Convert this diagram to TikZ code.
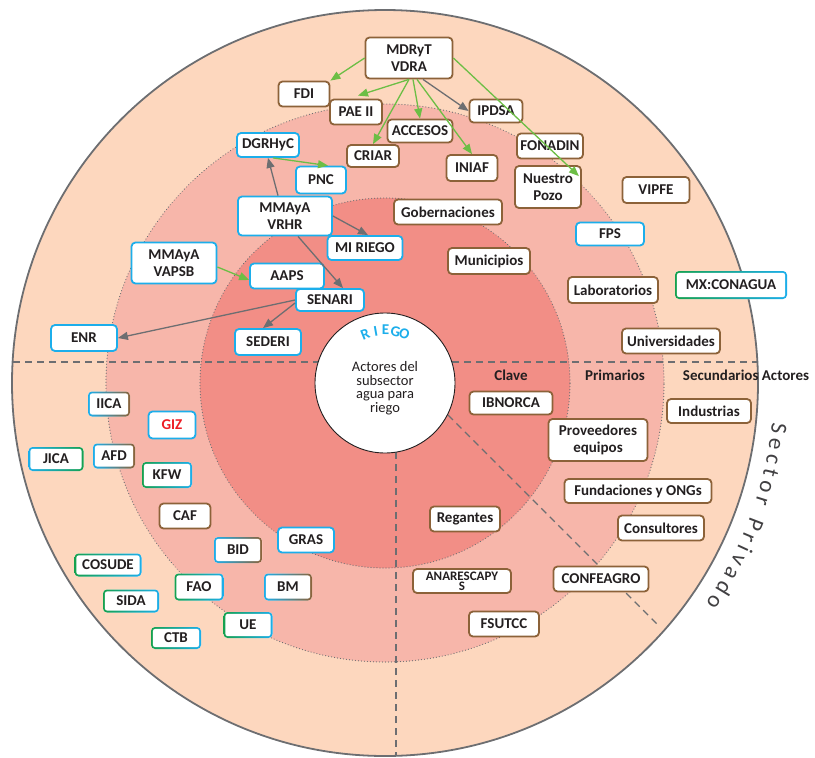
\documentclass[tikz,border=0pt]{standalone}
\usepackage{fontspec}
\setmainfont{Carlito}[BoldFont={Carlito Bold}]
\usetikzlibrary{arrows.meta,calc}
\definecolor{ringa}{HTML}{FDD7BE}
\definecolor{ringb}{HTML}{F7B6AA}
\definecolor{ringc}{HTML}{F28E86}
\definecolor{edgegray}{HTML}{6D6E71}
\definecolor{bbrown}{HTML}{8C6239}
\definecolor{bcyan}{HTML}{1CAEEB}
\definecolor{bgreen}{HTML}{16A14F}
\definecolor{agreen}{HTML}{6CBE45}
\definecolor{ink}{HTML}{231F20}
\definecolor{gizred}{HTML}{ED1C24}
\definecolor{sectorgray}{HTML}{414042}
\tikzset{
 boxbase/.style={rectangle, rounded corners=4pt, fill=white, line width=1.8pt, inner sep=1pt, align=center, text=ink, font=\bfseries\fontsize{15}{17.5}\selectfont},
 bbox/.style={boxbase, draw=bbrown},
 cbox/.style={boxbase, draw=bcyan},
 gbox/.style={boxbase, draw=bgreen},
 duo/.style 2 args={boxbase, draw=none, left color=#1, right color=#2,
   path picture={\fill[white, rounded corners=2.6pt] ([shift={(1.8pt,-1.8pt)}]path picture bounding box.north west) rectangle ([shift={(-1.8pt,1.8pt)}]path picture bounding box.south east);}},
 sz/.style 2 args={minimum width=#1pt, minimum height=#2pt},
 garrow/.style={-{Triangle[length=10pt,width=8pt]}, draw=agreen, line width=1.3pt},
 karrow/.style={-{Triangle[length=10pt,width=8pt]}, draw=edgegray, line width=1.3pt},
 ringdot/.style={draw=edgegray, line width=1.2pt, dash pattern=on 0.01pt off 3pt, line cap=round},
 divline/.style={draw=edgegray, line width=1.3pt, dash pattern=on 7pt off 5pt},
 lbl/.style={text=ink, font=\bfseries\fontsize{15}{17.5}\selectfont, inner sep=0pt},
}
\begin{document}
\begin{tikzpicture}[x=1pt,y=-1pt]
\useasboundingbox (0,0) rectangle (815,758);
\coordinate (O) at (385,383);
% rings
\fill[ringa] (O) circle[radius=373pt];
\fill[ringb] (O) circle[radius=279pt];
\draw[ringdot] (O) circle[radius=279pt];
\fill[ringc] (O) circle[radius=185pt];
\draw[ringdot] (O) circle[radius=185pt];
\draw[draw=edgegray, line width=1.8pt] (O) circle[radius=373pt];
% dividers
\draw[divline] (13,362) -- (318,362);
\draw[divline] (452,362) -- (757,362);
\draw[divline] (396,452) -- (396,756);
\draw[divline] (448,415) -- (660,627);
% centre
\filldraw[fill=white, draw=ink, line width=0.9pt] (O) circle[radius=70pt];
\node[text=ink, align=center, font=\fontsize{14.5}{13.5}\selectfont] (centro) at (385,388) {Actores del\\subsector\\agua para\\riego};
\foreach \ch/\ang [count=\k] in {R/112, I/100, E/89.5, G/78.5, O/68.5}
  \node[font=\bfseries\fontsize{15}{15}\selectfont, text=bcyan, anchor=base, rotate=\ang-90, inner sep=0pt] (riego\k) at ($(O)+(-\ang:48)$) {\ch};
\foreach \ch/\ang [count=\k] in {S/-6.6, e/-8.9, c/-11.1, t/-13.1, o/-15.2, r/-17.4, P/-21.0, r/-23.1, i/-24.8, v/-26.6, a/-28.8, d/-31.2, o/-33.6}
  \node[font=\fontsize{23}{23}\selectfont, text=sectorgray, anchor=base, rotate=\ang-90, inner sep=0pt] (sp\k) at ($(O)+(-\ang:389)$) {\ch};
% labels
\node[lbl] (clave) at (511,375) {Clave};
\node[lbl] (prim) at (615,375) {Primarios};
\node[lbl] (secu) at (746,375) {Secundarios Actores};
% nodes
\node[bbox, sz={87}{41}] (mdryt) at (409,58) {MDRyT\\VDRA};
\node[bbox, sz={51}{25}] (fdi) at (304,94) {FDI};
\node[bbox, sz={52}{25}] (pae) at (356,112) {PAE II};
\node[bbox, sz={65}{23}] (accesos) at (420,131) {ACCESOS};
\node[bbox, sz={52}{22}] (criar) at (373,156) {CRIAR};
\node[bbox, sz={51}{26}] (iniaf) at (472,168) {INIAF};
\node[bbox, sz={53}{23}] (ipdsa) at (496,111) {IPDSA};
\node[bbox, sz={66}{25}] (fonadin) at (550,146) {FONADIN};
\node[bbox, sz={66}{42}] (pozo) at (548,187) {Nuestro\\Pozo};
\node[cbox, sz={62}{24}] (dgr) at (268,145) {DGRHyC};
\node[cbox, sz={50}{27}] (pnc) at (321,180) {PNC};
\node[cbox, sz={94}{39}] (vrhr) at (285,216) {MMAyA\\VRHR};
\node[cbox, sz={75}{24}] (miriego) at (365,248) {MI RIEGO};
\node[bbox, sz={108}{25}] (gober) at (448,212) {Gobernaciones};
\node[cbox, sz={74}{25}] (aaps) at (287,276) {AAPS};
\node[cbox, sz={68}{22}] (senari) at (330,300) {SENARI};
\node[cbox, sz={85}{41}] (vapsb) at (174,263) {MMAyA\\VAPSB};
\node[cbox, sz={66}{26}] (enr) at (84,338) {ENR};
\node[cbox, sz={66}{26}] (sederi) at (268,342) {SEDERI};
\node[bbox, sz={82}{26}] (muni) at (489,261) {Municipios};
\node[bbox, sz={67}{26}] (vipfe) at (656,190) {VIPFE};
\node[cbox, sz={68}{23}] (fps) at (610,234) {FPS};
\node[duo={bgreen}{bcyan}, sz={112}{28}] (conagua) at (731,285) {MX:CONAGUA};
\node[bbox, sz={90}{26}] (labs) at (613,290) {Laboratorios};
\node[bbox, sz={98}{25}] (univ) at (671,341) {Universidades};
\node[bbox, sz={83}{23}] (ibnorca) at (511,403) {IBNORCA};
\node[bbox, sz={84}{24}] (indus) at (709,411) {Industrias};
\node[bbox, sz={99}{42}] (prov) at (598,440) {Proveedores\\equipos};
\node[bbox, sz={147}{24}] (fund) at (638,491) {Fundaciones y ONGs};
\node[bbox, sz={86}{25}] (consul) at (661,528) {Consultores};
\node[bbox, sz={70}{25}] (regantes) at (465,519) {Regantes};
\node[bbox, sz={95}{25}] (confe) at (601,579) {CONFEAGRO};
\node[bbox, sz={98}{24}, font=\bfseries\fontsize{13}{10}\selectfont] (anares) at (462,581) {ANARESCAPY\\S};
\node[bbox, sz={70}{25}] (fsutcc) at (504,624) {FSUTCC};
\node[duo={bcyan}{bbrown}, sz={42}{25}] (iica) at (109,404) {IICA};
\node[cbox, sz={47}{27}, text=gizred] (giz) at (172,425) {GIZ};
\node[duo={bcyan}{bgreen}, sz={55}{24}] (jica) at (56,459) {JICA};
\node[duo={bcyan}{bbrown}, sz={42}{25}] (afd) at (114,456) {AFD};
\node[duo={bgreen}{bcyan}, sz={50}{26}] (kfw) at (167,475) {KFW};
\node[bbox, sz={51}{25}] (caf) at (185,516) {CAF};
\node[duo={bcyan}{bbrown}, sz={48}{26}] (bid) at (238,550) {BID};
\node[cbox, sz={56}{25}] (gras) at (306,540) {GRAS};
\node[duo={bgreen}{bcyan}, sz={67}{23}] (cosude) at (108,565) {COSUDE};
\node[duo={bgreen}{bcyan}, sz={49}{27}] (fao) at (199,587) {FAO};
\node[duo={bcyan}{bbrown}, sz={48}{27}] (bm) at (288,587) {BM};
\node[duo={bgreen}{bcyan}, sz={56}{23}] (sida) at (131,601) {SIDA};
\node[duo={bgreen}{bcyan}, sz={49}{26}] (ue) at (248,625) {UE};
\node[duo={bgreen}{bcyan}, sz={50}{22}] (ctb) at (176,638) {CTB};
% connectors
\draw[garrow] (mdryt.west) -- (fdi.north east);
\draw[garrow] (mdryt.south) -- ([xshift=2pt,yshift=3pt]pae.north);
\draw[garrow] (mdryt.south) -- (criar.north);
\draw[garrow] ([xshift=4pt]mdryt.south) -- (accesos.north);
\draw[garrow] ([xshift=8pt]mdryt.south) -- (iniaf.north);
\draw[karrow] ([xshift=14pt]mdryt.south) -- (ipdsa.west);
\draw[garrow] (mdryt.east) -- ([xshift=-3pt,yshift=-11pt]pozo.north east);
\draw[garrow] ([xshift=5pt]dgr.south) -- ([xshift=7pt]pnc.north);
\draw[karrow] ([xshift=-7pt]vrhr.north) -- (dgr.south);
\draw[karrow] (vrhr.east) -- ([xshift=3pt]miriego.north);
\draw[karrow] ([xshift=13pt]vrhr.south) -- ([xshift=13pt]senari.north);
\draw[garrow] ([yshift=-4pt]vapsb.east) -- ([yshift=-4pt]aaps.west);
\draw[karrow] (senari.west) -- (enr.east);
\draw[karrow] ([yshift=-3pt]senari.west) -- ([xshift=-5pt]sederi.north);
\end{tikzpicture}
\end{document}
